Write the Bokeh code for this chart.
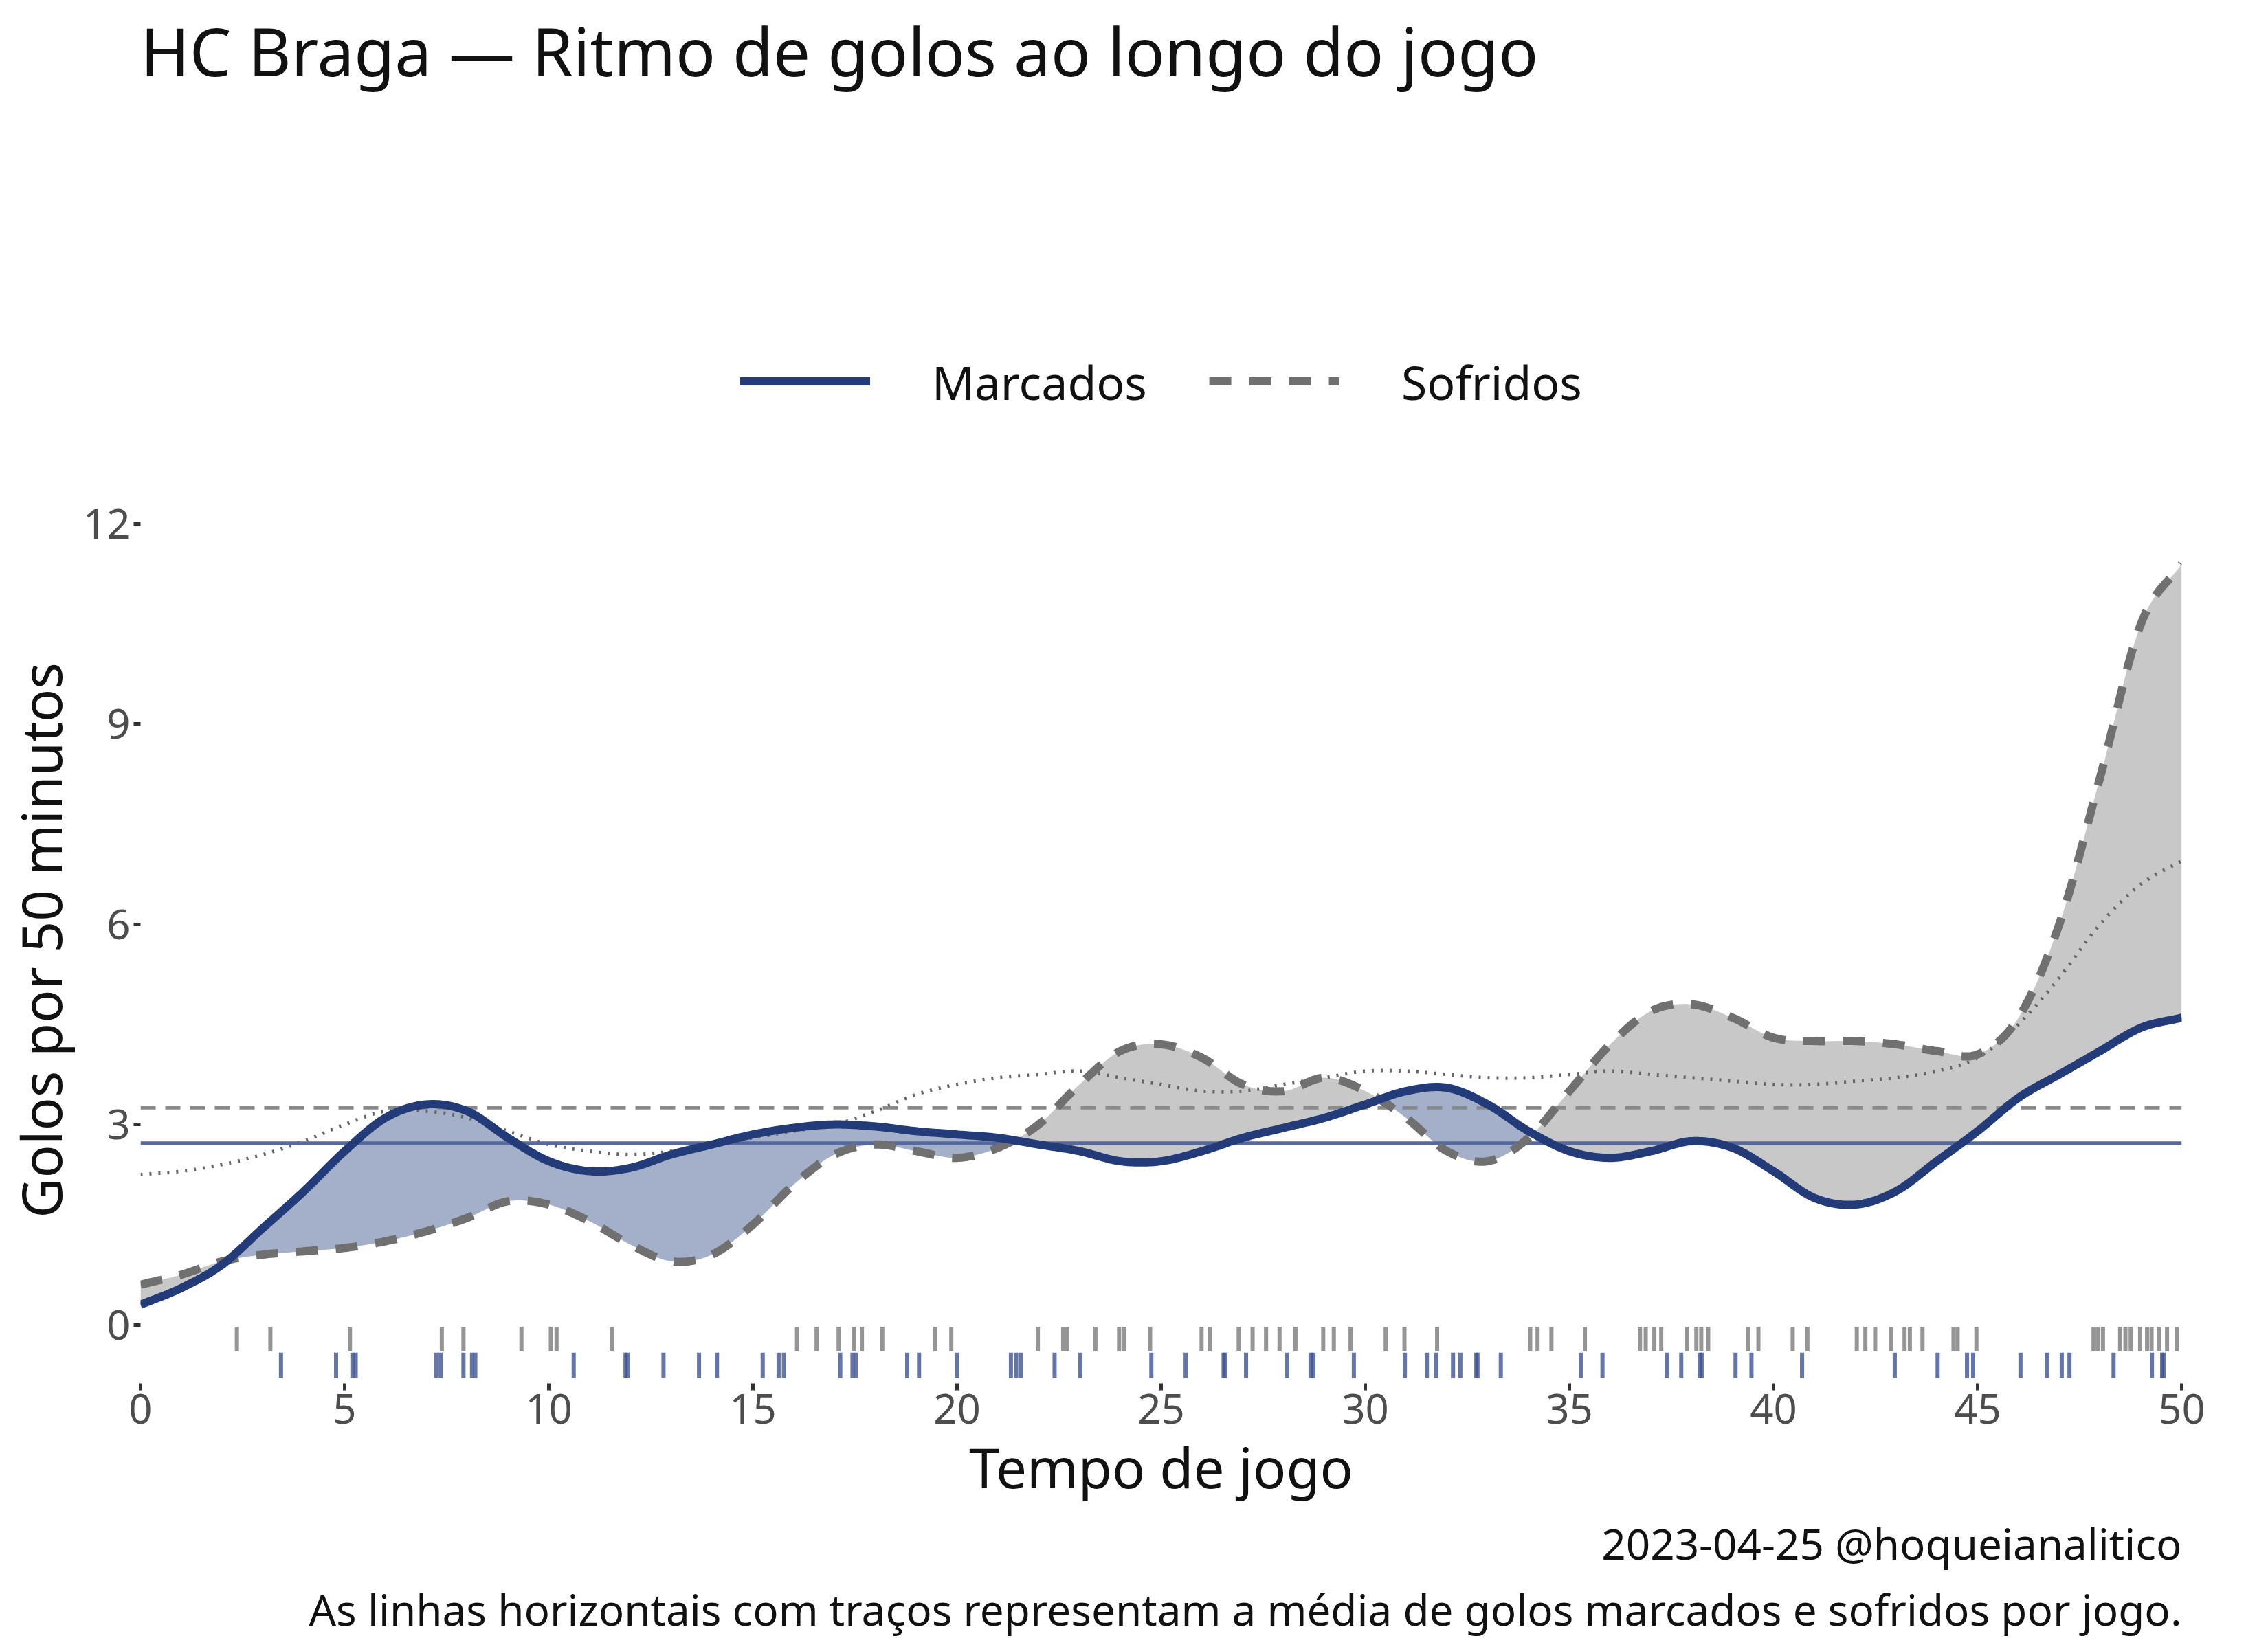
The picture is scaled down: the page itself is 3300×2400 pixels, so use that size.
import numpy as np
from bokeh.plotting import figure
from bokeh.models import Legend, LegendItem, Title, FixedTicker, Range1d
from bokeh.embed import file_html
from bokeh.resources import INLINE

minutes = list(range(51))
scored = [0.3,0.55,0.9,1.45,2.0,2.6,3.1,3.3,3.2,2.8,2.45,2.3,2.35,2.55,2.7,2.85,2.95,3.0,2.97,2.9,2.85,2.8,2.7,2.6,2.45,2.45,2.6,2.8,2.95,3.1,3.3,3.5,3.55,3.3,2.9,2.6,2.5,2.6,2.75,2.65,2.3,1.9,1.8,2.0,2.45,2.9,3.4,3.75,4.1,4.45,4.6]
conceded = [0.6,0.75,0.95,1.05,1.1,1.15,1.25,1.4,1.6,1.85,1.8,1.55,1.2,0.95,1.05,1.5,2.1,2.55,2.7,2.6,2.5,2.65,3.0,3.6,4.1,4.2,4.0,3.6,3.5,3.7,3.5,3.1,2.6,2.45,2.8,3.5,4.2,4.7,4.8,4.6,4.3,4.25,4.25,4.2,4.1,4.05,4.6,6.0,8.2,10.5,11.4]
division = [2.25,2.3,2.4,2.55,2.75,3.0,3.2,3.2,3.1,2.9,2.7,2.6,2.55,2.6,2.7,2.8,2.9,3.0,3.2,3.45,3.6,3.7,3.75,3.8,3.7,3.6,3.5,3.5,3.6,3.7,3.8,3.8,3.75,3.7,3.7,3.75,3.8,3.75,3.7,3.65,3.6,3.6,3.65,3.7,3.8,4.0,4.5,5.2,6.0,6.6,6.95]
mean_scored = 2.72
mean_conceded = 3.25
goals_conceded = [2.36,3.18,5.13,7.38,7.91,9.33,10.05,10.19,11.54,16.08,16.56,17.1,17.47,17.67,18.17,19.47,19.86,21.98,22.6,22.7,23.39,23.97,24.1,24.73,
  25.99,26.19,26.9,27.24,27.57,27.9,28.29,28.97,29.23,29.64,30.5,30.96,31.76,34.04,34.22,34.56,35.38,36.73,36.87,37.08,37.25,37.88,38.11,38.23,38.4,39.38,39.63,40.47,40.83,42.04,42.25,42.49,42.88,43.21,43.34,43.65,44.41,44.51,44.97,47.84,47.94,48.07,48.49,48.62,48.75,48.98,49.15,49.26,49.44,49.64,49.88]
goals_scored = [3.44,4.79,5.19,5.27,7.24,7.35,7.91,8.12,8.2,10.61,11.88,11.93,12.81,13.68,14.12,15.24,15.63,15.76,17.14,17.44,17.52,18.78,19.07,20.0,21.32,21.45,21.56,22.39,23.02,24.76,
  25.6,26.53,26.56,27.08,28.08,28.66,28.73,29.72,30.97,31.51,31.73,32.15,32.33,32.72,32.75,33.32,35.28,35.81,37.39,37.74,38.19,38.24,39.07,39.46,40.7,42.97,44.02,44.74,44.89,46.05,46.7,47.06,47.25,48.33,49.27,49.52,49.56]

FONT = "Noto Sans"
NAVY = "#243b7a"
GRAY = "#707070"

def smooth(xs, ys, n=20):
    # Catmull-Rom spline through the read points
    xs = np.asarray(xs, float); ys = np.asarray(ys, float)
    P = np.concatenate([[2*ys[0]-ys[1]], ys, [2*ys[-1]-ys[-2]]])
    ox, oy = [], []
    for i in range(len(ys)-1):
        t = np.linspace(0, 1, n, endpoint=False)
        p0, p1, p2, p3 = P[i], P[i+1], P[i+2], P[i+3]
        y = 0.5*((2*p1) + (-p0+p2)*t + (2*p0-5*p1+4*p2-p3)*t**2 + (-p0+3*p1-3*p2+p3)*t**3)
        ox.extend(xs[i] + t*(xs[i+1]-xs[i])); oy.extend(y)
    ox.append(xs[-1]); oy.append(ys[-1])
    return np.array(ox), np.array(oy)

p = figure(frame_width=2970, frame_height=1290, output_backend="svg", toolbar_location=None,
           x_range=Range1d(0, 50), y_range=Range1d(-0.88, 12.4),
           title="HC Braga — Ritmo de golos ao longo do jogo")
p.min_border_left = 40
p.min_border_right = 40
p.min_border_top = 30
p.title.text_font = FONT
p.title.text_font_size = "96px"
p.title.text_font_style = "normal"
p.title.text_color = "#111111"
p.outline_line_color = None
p.xgrid.grid_line_color = None
p.ygrid.grid_line_color = None

g, s = smooth(minutes, scored)
_, c = smooth(minutes, conceded)
_, d = smooth(minutes, division)
p.varea(x=g, y1=c, y2=np.maximum(s, c), fill_color="#a4b0ca")
p.varea(x=g, y1=s, y2=np.maximum(s, c), fill_color="#c8c8c8")

p.line(g, d, line_color="#666666", line_width=5, line_dash="3 10")
p.line([0, 50], [mean_scored, mean_scored], line_color="#5568a0", line_width=5)
p.line([0, 50], [mean_conceded, mean_conceded], line_color="#8a8a8a", line_width=5, line_dash="22 14")

p.segment(x0=goals_conceded, y0=-0.03, x1=goals_conceded, y1=-0.4, line_color="#7a7a7a", line_alpha=0.8, line_width=6)
p.segment(x0=goals_scored, y0=-0.42, x1=goals_scored, y1=-0.8, line_color="#3d5290", line_alpha=0.8, line_width=6)

r_c = p.line(g, c, line_color=GRAY, line_width=12, line_dash="32 26")
r_s = p.line(g, s, line_color=NAVY, line_width=12)

legend = Legend(items=[LegendItem(label="Marcados", renderers=[r_s]),
                       LegendItem(label="Sofridos", renderers=[r_c])],
                orientation="horizontal", location="center",
                glyph_width=190, glyph_height=50, label_text_font=FONT,
                label_text_font_size="68px", label_text_color="#111111", spacing=90, label_standoff=90,
                border_line_color=None, background_fill_alpha=0, margin=40, padding=10)
p.add_layout(legend, "above")

for ax in (p.xaxis[0], p.yaxis[0]):
    ax.axis_line_color = None
    ax.major_tick_line_color = "#333333"
    ax.major_tick_line_width = 5
    ax.major_tick_in = 0
    ax.major_tick_out = 10
    ax.minor_tick_line_color = None
    ax.major_label_text_font = FONT
    ax.major_label_text_font_size = "60px"
    ax.major_label_text_color = "#4d4d4d"
    ax.axis_label_text_font = FONT
    ax.axis_label_text_font_size = "80px"
    ax.axis_label_text_font_style = "normal"
    ax.axis_label_text_color = "#111111"
p.xaxis.ticker = FixedTicker(ticks=list(range(0, 51, 5)))
p.yaxis.ticker = FixedTicker(ticks=[0, 3, 6, 9, 12])
p.xaxis.axis_label = "Tempo de jogo"
p.yaxis.axis_label = "Golos por 50 minutos"

captions = ["2023-04-25 @hoqueianalitico",
            "As linhas horizontais com traços representam a média de golos marcados e sofridos por jogo.",
            "A curva cinzenta com pontos representa a média de golos da divisão ao longo do jogo.",
            "Inspirado por @IneffectiveMath."]
for i, t in enumerate(captions):
    p.add_layout(Title(text=t, align="right", text_font=FONT, text_font_size="62px",
                       text_font_style="normal", text_color="#111111",
                       standoff=0 if i else 20), "below")

open("out.html", "w").write(file_html(p, INLINE))
